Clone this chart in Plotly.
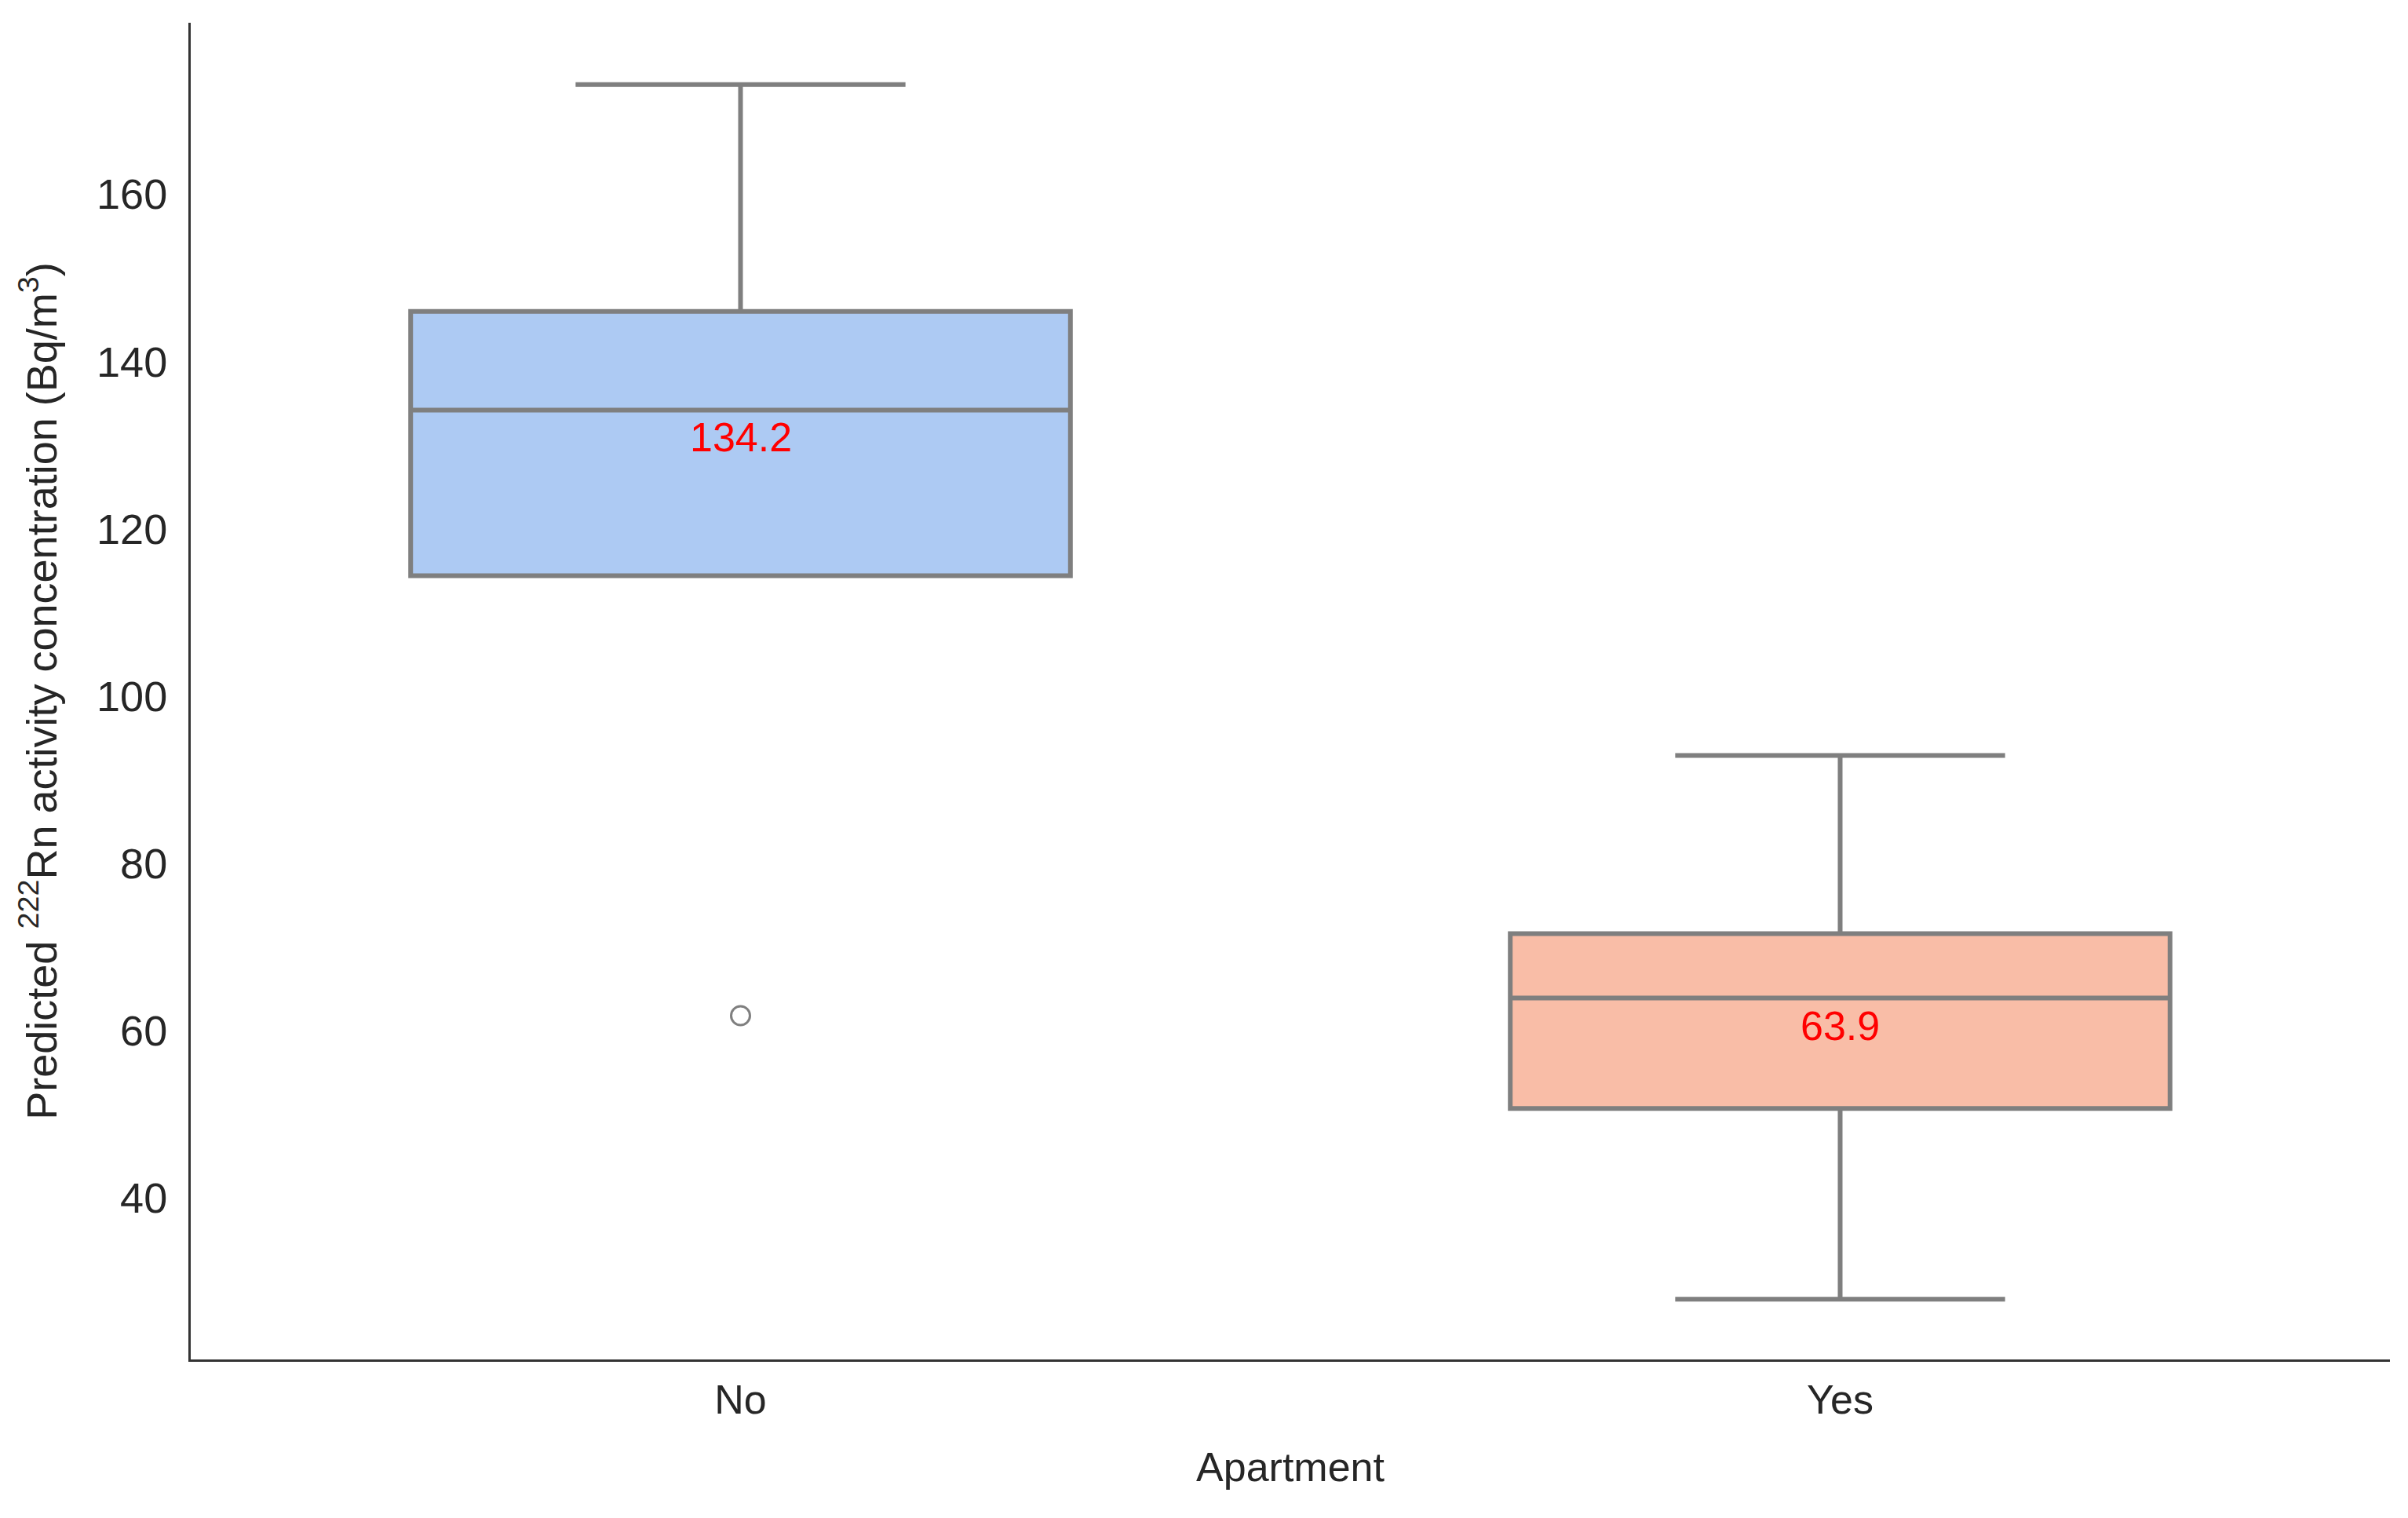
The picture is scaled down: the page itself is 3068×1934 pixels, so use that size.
import plotly.graph_objects as go

# box statistics
categories = ["No", "Yes"]
q1 = [114.4, 50.7]
medians = [134.2, 63.9]
q3 = [146.0, 71.6]
lower_fence = [114.4, 27.9]
upper_fence = [173.1, 92.9]
outlier_cats = ["No"]
outlier_vals = [61.8]
fill_colors = ["#adcaf3", "#f9bda7"]

LINE = "#7f7f7f"
FONT = "Liberation Sans, Arial, sans-serif"

fig = go.Figure()
for i, cat in enumerate(categories):
	fig.add_trace(go.Box(
		x=[cat], q1=[q1[i]], median=[medians[i]], q3=[q3[i]],
		lowerfence=[lower_fence[i]], upperfence=[upper_fence[i]],
		fillcolor=fill_colors[i], line=dict(color=LINE, width=6),
		width=0.6, whiskerwidth=0.5, boxpoints=False, showlegend=False,
	))

fig.add_trace(go.Scatter(
	x=outlier_cats, y=outlier_vals, mode="markers", showlegend=False,
	marker=dict(symbol="circle-open", size=24, color=LINE, line=dict(width=3, color=LINE)),
))

# median labels
for cat, m in zip(categories, medians):
	fig.add_annotation(x=cat, y=m, text=f"{m:.1f}", showarrow=False, yanchor="top", yshift=-4,
		font=dict(color="red", size=52, family=FONT))

# page body has an 8px margin, so the figure is 16px smaller than the window
fig.update_layout(
	width=3052, height=1918,
	plot_bgcolor="white", paper_bgcolor="white",
	margin=dict(l=235, r=15, t=21, b=194),
	font=dict(family=FONT, size=52, color="#262626"),
)
fig.update_xaxes(
	type="category", range=[-0.5, 1.5], showline=True, linecolor="#333333", linewidth=3,
	showgrid=False, ticks="", zeroline=False, ticklabelstandoff=4,
	title=dict(text="Apartment", font=dict(size=52), standoff=40),
)
fig.update_yaxes(
	range=[20.7, 180.5], tickvals=[40, 60, 80, 100, 120, 140, 160], showline=True,
	linecolor="#333333", linewidth=3, showgrid=False, ticks="", zeroline=False, ticklabelstandoff=16,
	tickfont=dict(size=54),
	title=dict(text="Predicted <sup>222</sup>Rn activity concentration (Bq/m<sup>3</sup>)", font=dict(size=54), standoff=34),
)

fig.write_html("out.html")
